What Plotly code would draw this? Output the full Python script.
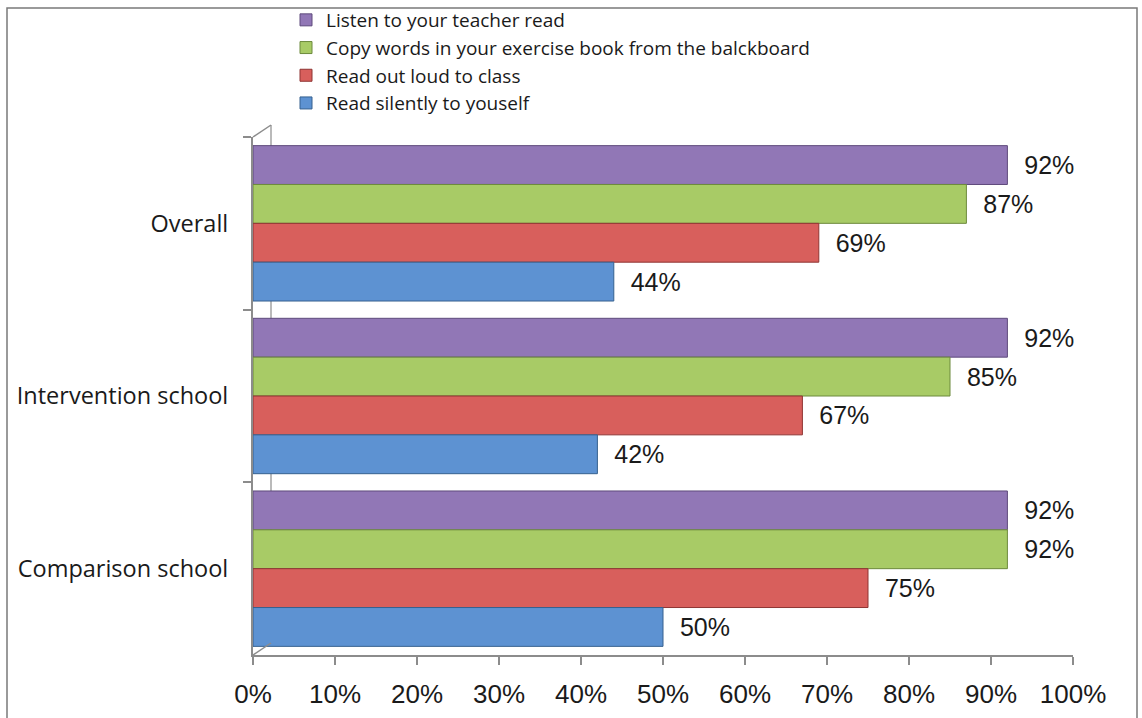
import plotly.graph_objects as go

# Survey results: share of pupils doing each reading activity
categories = ["Overall", "Intervention school", "Comparison school"]

series_names = [
    "Listen to your teacher read",
    "Copy words in your exercise book from the balckboard",
    "Read out loud to class",
    "Read silently to youself",
]
listen_teacher = [0.92, 0.92, 0.92]
copy_words = [0.87, 0.85, 0.92]
read_aloud = [0.69, 0.67, 0.75]
read_silently = [0.44, 0.42, 0.50]

tick_values = [0.0, 0.1, 0.2, 0.3, 0.4, 0.5, 0.6, 0.7, 0.8, 0.9, 1.0]
tick_labels = ["0%", "10%", "20%", "30%", "40%", "50%", "60%", "70%", "80%", "90%", "100%"]

series_values = [listen_teacher, copy_words, read_aloud, read_silently]
fill_colors = ["#9177b6", "#a8cb66", "#d85f5c", "#5d92d2"]
edge_colors = ["#5e4a7c", "#6d8a3c", "#8f3533", "#36618f"]

W, H = 1142, 718
M_L, M_R, M_T, M_B = 253, 69, 137, 63
PLOT_W = W - M_L - M_R
PLOT_H = H - M_T - M_B

fig = go.Figure()
for name, vals, fc, ec in zip(series_names, series_values, fill_colors, edge_colors):
    fig.add_trace(go.Bar(
        name=name,
        y=categories,
        x=vals,
        orientation="h",
        marker=dict(color=fc, line=dict(color=ec, width=1)),
        text=["\u00a0\u00a0" + f"{v:.0%}" for v in vals],
        textposition="outside",
        constraintext="none",
        cliponaxis=False,
        textfont=dict(family="Liberation Sans, Arial", size=25, color="#1a1a1a"),
        hoverinfo="skip",
    ))


def px_x(p):
    return (p - M_L) / PLOT_W


def px_y(p):
    return (H - M_B - p) / PLOT_H


frame = "#8c8c8c"
shapes = [
    # outer border around the chart
    dict(type="rect", xref="paper", yref="paper",
         x0=px_x(7), x1=px_x(1137), y0=px_y(740), y1=px_y(8),
         line=dict(color="#7a7a7a", width=1.5), fillcolor="rgba(0,0,0,0)", layer="below"),
    # back wall edge of the 3D frame
    dict(type="line", xref="paper", yref="paper",
         x0=px_x(253), y0=px_y(137), x1=px_x(271), y1=px_y(125),
         line=dict(color=frame, width=1.5)),
    dict(type="line", xref="paper", yref="paper",
         x0=px_x(271), y0=px_y(125), x1=px_x(271), y1=px_y(643),
         line=dict(color=frame, width=1.2), layer="below"),
    dict(type="line", xref="paper", yref="paper",
         x0=px_x(253), y0=px_y(655), x1=px_x(271), y1=px_y(643),
         line=dict(color=frame, width=1.5)),
]

fig.update_layout(
    width=W, height=H,
    margin=dict(l=M_L, r=M_R, t=M_T, b=M_B, pad=0, autoexpand=False),
    paper_bgcolor="white", plot_bgcolor="white",
    barmode="group", bargap=0.1, bargroupgap=0.0,
    showlegend=True,
    legend=dict(
        x=px_x(286), y=px_y(1), xanchor="left", yanchor="top",
        traceorder="normal", orientation="v",
        font=dict(family="Open Sans", size=19, color="#1a1a1a"),
        bgcolor="rgba(0,0,0,0)", itemclick=False,
    ),
    xaxis=dict(
        range=[0, 1], tickvals=tick_values, ticktext=tick_labels,
        showgrid=False, zeroline=False,
        showline=True, linecolor=frame, linewidth=2,
        ticks="outside", ticklen=8, tickcolor=frame, tickwidth=2,
        tickfont=dict(family="Liberation Sans, Arial", size=26, color="#1a1a1a"),
        ticklabelstandoff=7,
    ),
    yaxis=dict(
        type="category", categoryorder="array", categoryarray=categories,
        autorange="reversed",
        showgrid=False, zeroline=False,
        showline=True, linecolor=frame, linewidth=2,
        ticks="outside", ticklen=8, tickcolor=frame, tickwidth=2,
        tickson="boundaries",
        tickfont=dict(family="Open Sans", size=23.5, color="#1a1a1a"),
        ticklabelstandoff=18,
    ),
    shapes=shapes,
)

fig.write_html("out.html")
